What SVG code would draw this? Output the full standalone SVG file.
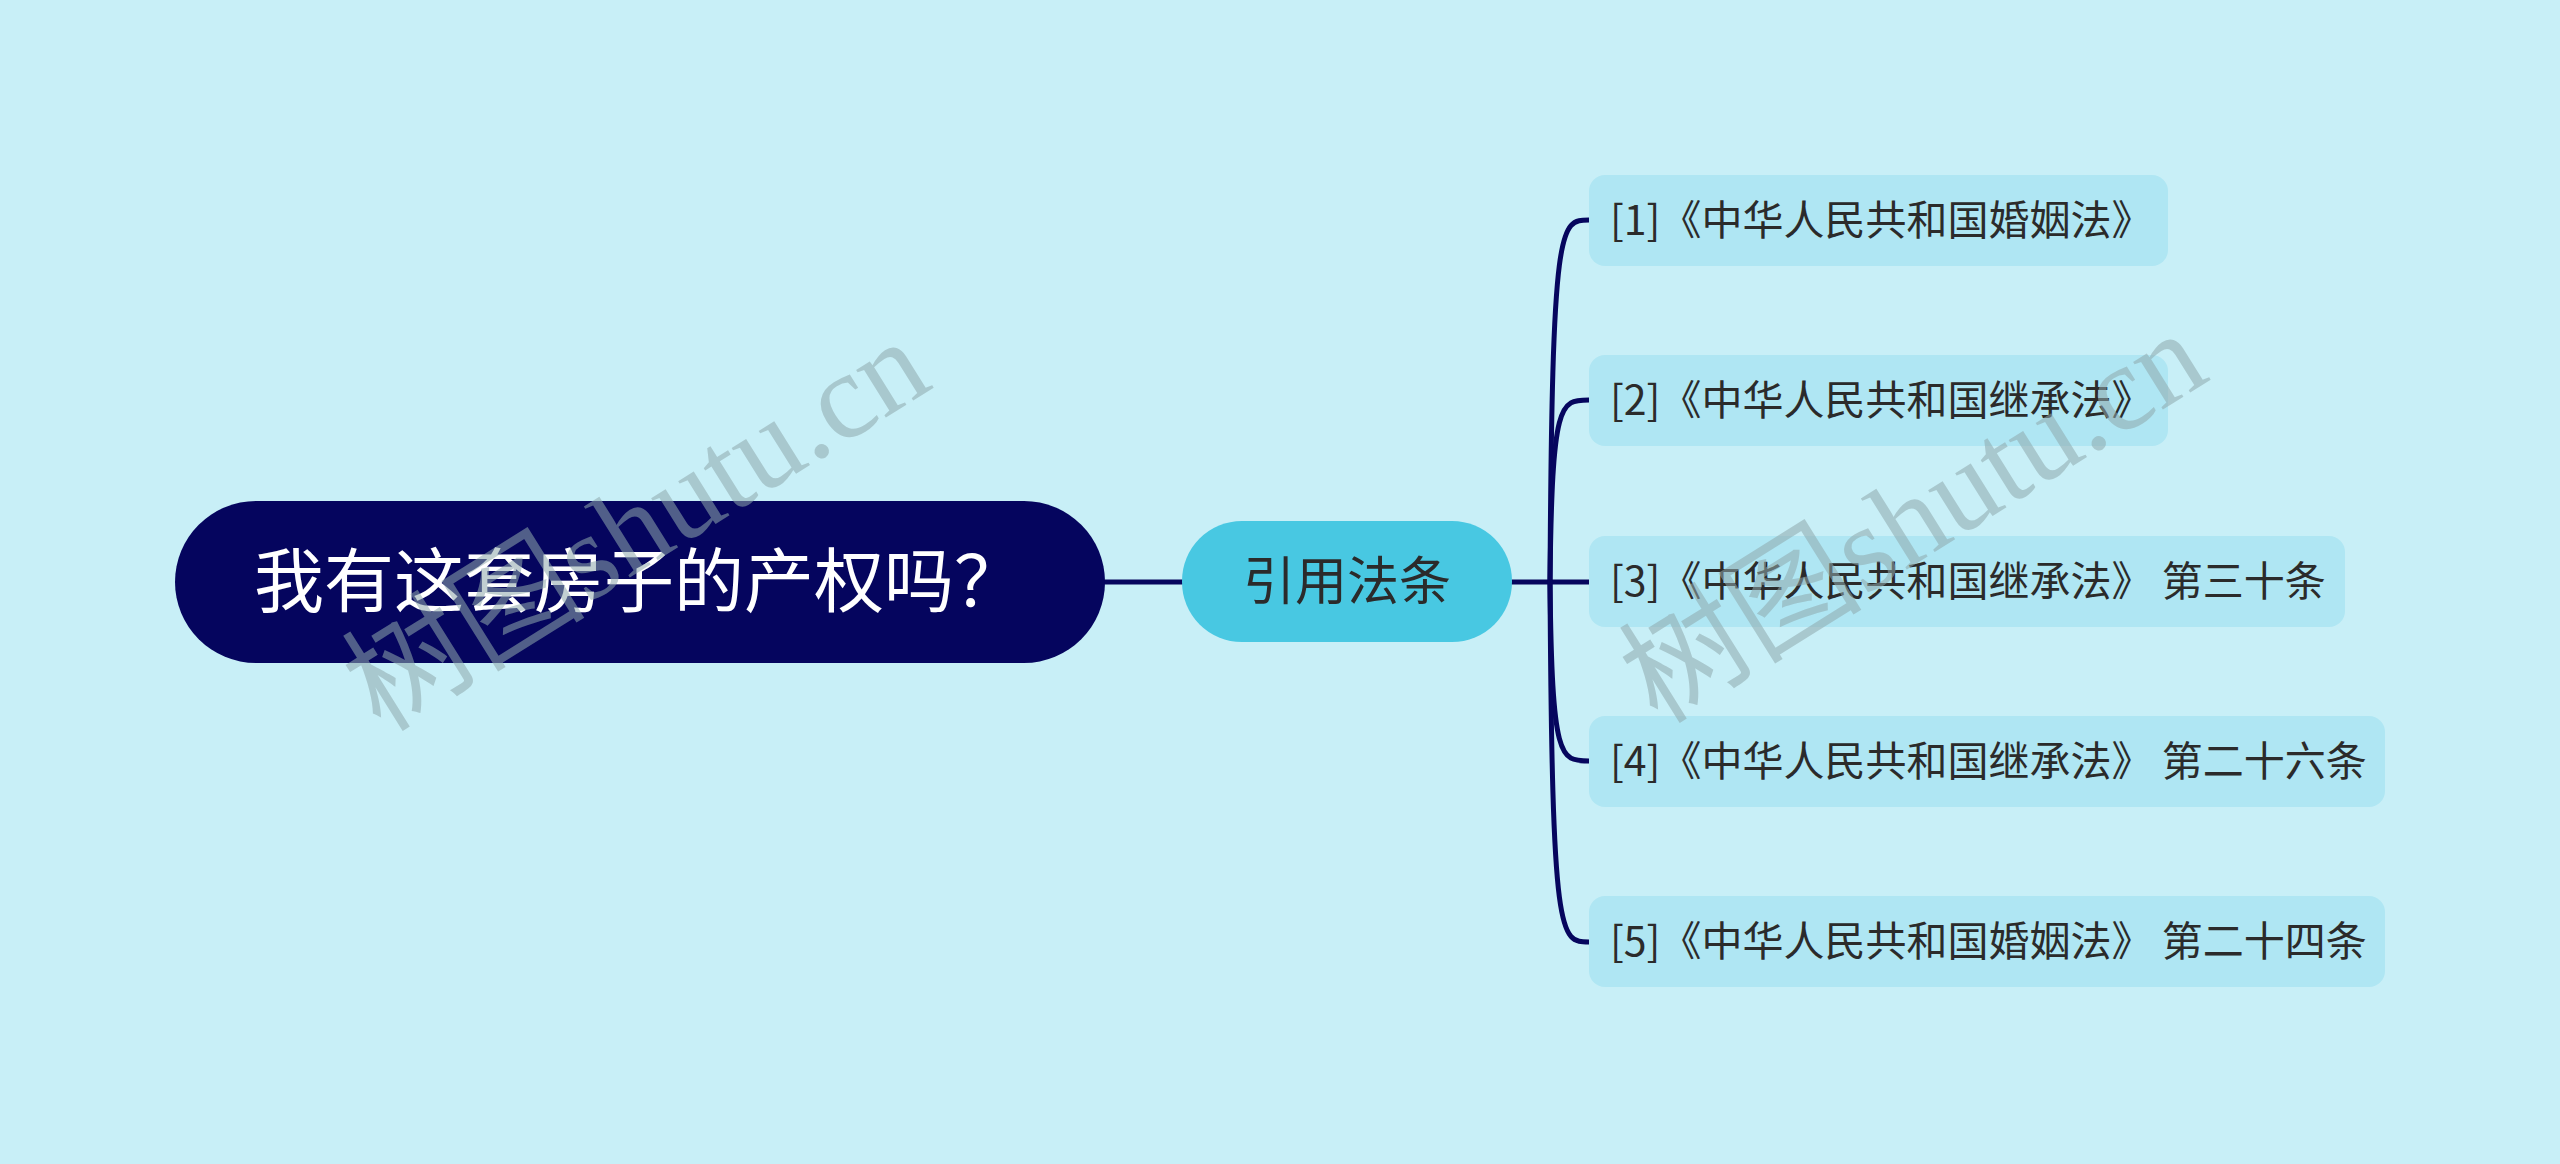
<svg xmlns="http://www.w3.org/2000/svg" width="2560" height="1164" viewBox="0 0 2560 1164">
<style>
.bg{fill:#c8eff7}
.conn{fill:none;stroke:#06065e;stroke-width:5;stroke-linecap:round}
.root{fill:#05055e}
.mid{fill:#48c8e2}
.leaf{fill:#afe6f3}
.t{font-family:"Noto Sans CJK SC","Noto Sans",sans-serif}
.rt{fill:#ffffff;font-size:70px}
.mt{fill:#2b2b2b;font-size:52px}
.lt{fill:#2b2b2b;font-size:41px}
.wm{font-family:"Liberation Serif","Noto Sans CJK SC",serif;font-size:122px;fill:#8fa9ad;opacity:0.55}
</style>
<rect class="bg" x="0" y="0" width="2560" height="1164"/>
<g id="connectors">
<line class="conn" x1="1105" y1="582" x2="1182" y2="582"/>
<line class="conn" x1="1512" y1="582" x2="1589" y2="582"/>
<path class="conn" d="M1550,582 C1552,220 1560,220 1589,220"/>
<path class="conn" d="M1550,582 C1552,400 1560,400 1589,400"/>
<path class="conn" d="M1550,582 C1552,761 1560,761 1589,761"/>
<path class="conn" d="M1550,582 C1552,942 1560,942 1589,942"/>
</g>
<g id="root">
<rect class="root" x="175" y="501" width="930" height="162" rx="81"/>
<text class="t rt" x="254" y="607">我有这套房子的产权吗？</text>
</g>
<g id="mid">
<rect class="mid" x="1182" y="521" width="330" height="121" rx="60"/>
<text class="t mt" x="1347" y="600" text-anchor="middle">引用法条</text>
</g>
<g id="leaf1">
<rect class="leaf" x="1589" y="175" width="579" height="91" rx="16"/>
<text class="t lt" x="1610" y="235">[1]《中华人民共和国婚姻法》</text>
</g>
<g id="leaf2">
<rect class="leaf" x="1589" y="355" width="579" height="91" rx="16"/>
<text class="t lt" x="1610" y="415">[2]《中华人民共和国继承法》</text>
</g>
<g id="leaf3">
<rect class="leaf" x="1589" y="536" width="756" height="91" rx="16"/>
<text class="t lt" x="1610" y="596">[3]《中华人民共和国继承法》 第三十条</text>
</g>
<g id="leaf4">
<rect class="leaf" x="1589" y="716" width="796" height="91" rx="16"/>
<text class="t lt" x="1610" y="776">[4]《中华人民共和国继承法》 第二十六条</text>
</g>
<g id="leaf5">
<rect class="leaf" x="1589" y="896" width="796" height="91" rx="16"/>
<text class="t lt" x="1610" y="956">[5]《中华人民共和国婚姻法》 第二十四条</text>
</g>
<g id="watermark">
<text class="wm" transform="translate(658,560) rotate(-32)" text-anchor="middle">树图shutu.cn</text>
<text class="wm" transform="translate(1935,552) rotate(-32)" text-anchor="middle">树图shutu.cn</text>
</g>
</svg>
